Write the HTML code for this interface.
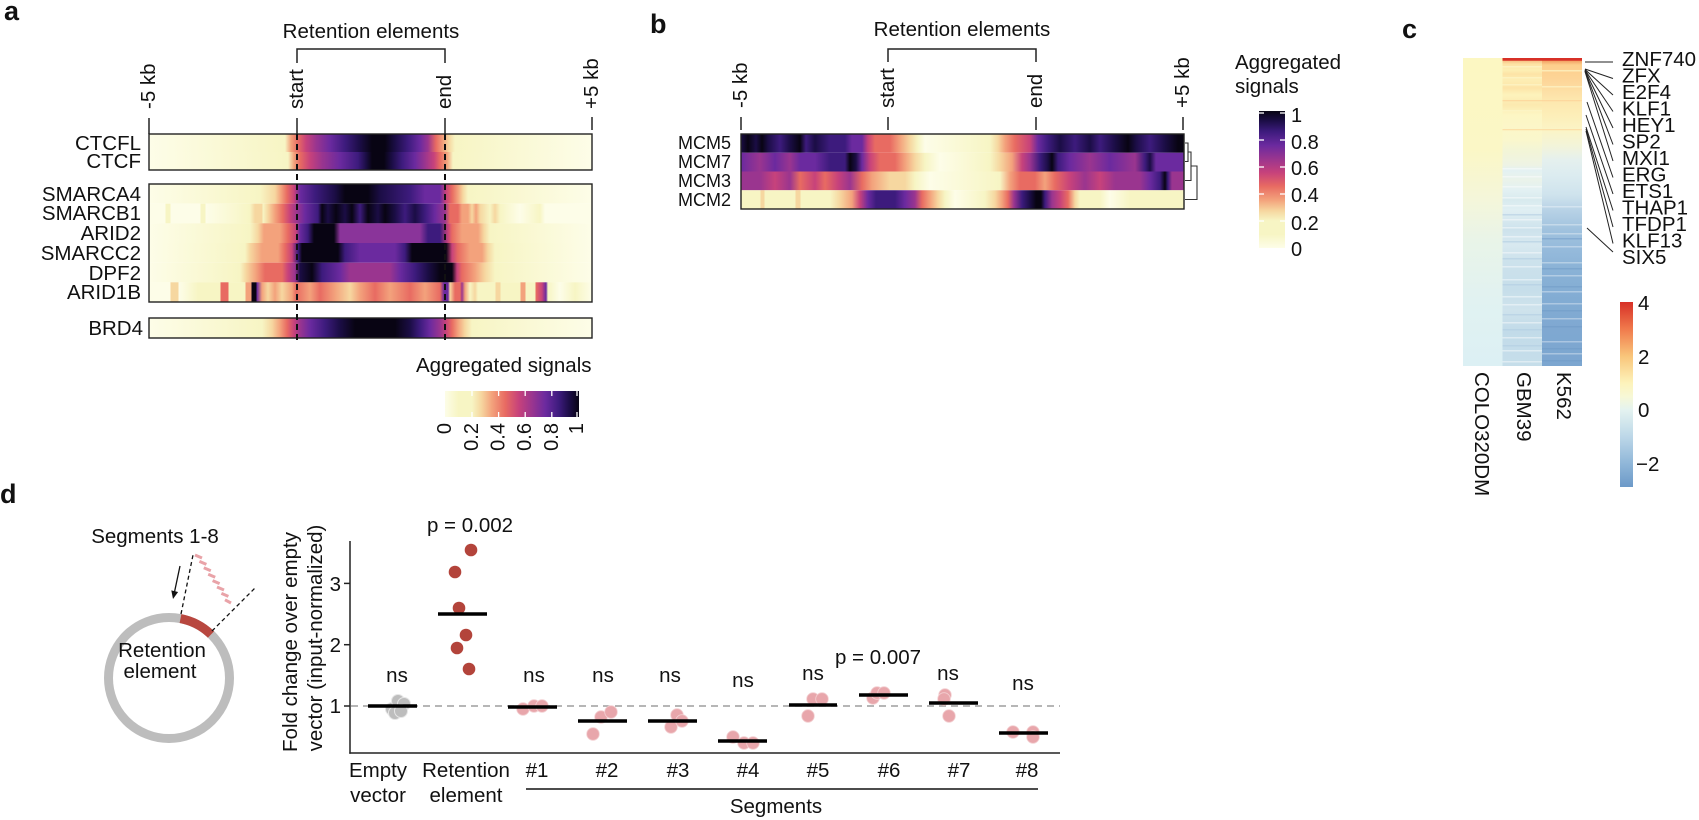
<!DOCTYPE html>
<html><head><meta charset="utf-8">
<style>
html,body{margin:0;padding:0;background:#fff;}
svg{display:block;}
.p0{stop-color:#fdfde8}.p1{stop-color:#f7f5c4}.p2{stop-color:#f6d7a0}.p3{stop-color:#f3a27c}
.p4{stop-color:#e86b62}.p5{stop-color:#c7427b}.p6{stop-color:#9a358f}.p7{stop-color:#6b2a9f}
.p8{stop-color:#3d1b7d}.p9{stop-color:#1b0d45}.p10{stop-color:#080413}
text{font-family:"Liberation Sans",Arial,sans-serif;fill:#111;}
</style></head>
<body>
<svg width="1699" height="820" viewBox="0 0 1699 820" xmlns="http://www.w3.org/2000/svg">
<defs>
<!-- panel a rows -->
<linearGradient id="a1" gradientUnits="userSpaceOnUse" x1="0" y1="0" x2="2000" y2="0">
<stop offset="7.45%" class="p0"/><stop offset="14.25%" class="p1"/><stop offset="14.55%" class="p3"/><stop offset="14.9%" class="p4"/><stop offset="15.3%" class="p5"/><stop offset="15.8%" class="p6"/><stop offset="16.5%" class="p7"/><stop offset="17.25%" class="p8"/><stop offset="18%" class="p9"/><stop offset="18.6%" class="p10"/><stop offset="19.25%" class="p10"/><stop offset="19.75%" class="p9"/><stop offset="20.4%" class="p8"/><stop offset="21%" class="p7"/><stop offset="21.4%" class="p6"/><stop offset="21.8%" class="p4"/><stop offset="22.15%" class="p3"/><stop offset="22.45%" class="p2"/><stop offset="22.75%" class="p1"/><stop offset="29.6%" class="p0"/>
</linearGradient>
<linearGradient id="a2" gradientUnits="userSpaceOnUse" x1="0" y1="0" x2="2000" y2="0">
<stop offset="7.45%" class="p0"/><stop offset="14.4%" class="p1"/><stop offset="14.7%" class="p3"/><stop offset="15%" class="p4"/><stop offset="15.5%" class="p5"/><stop offset="16.1%" class="p6"/><stop offset="17%" class="p7"/><stop offset="17.9%" class="p8"/><stop offset="18.3%" class="p9"/><stop offset="18.6%" class="p10"/><stop offset="19.2%" class="p10"/><stop offset="19.6%" class="p9"/><stop offset="20.1%" class="p8"/><stop offset="20.75%" class="p7"/><stop offset="21.25%" class="p6"/><stop offset="21.7%" class="p5"/><stop offset="22%" class="p4"/><stop offset="22.35%" class="p3"/><stop offset="22.65%" class="p1"/><stop offset="29.6%" class="p0"/>
</linearGradient>
<linearGradient id="a3" gradientUnits="userSpaceOnUse" x1="0" y1="0" x2="2000" y2="0">
<stop offset="7.45%" class="p0"/><stop offset="13%" class="p1"/><stop offset="13.75%" class="p2"/><stop offset="14.05%" class="p3"/><stop offset="14.35%" class="p4"/><stop offset="14.7%" class="p5"/><stop offset="15%" class="p7"/><stop offset="15.75%" class="p8"/><stop offset="16.75%" class="p9"/><stop offset="17.25%" class="p10"/><stop offset="18.4%" class="p10"/><stop offset="19%" class="p9"/><stop offset="20.5%" class="p8"/><stop offset="21.25%" class="p7"/><stop offset="22%" class="p7"/><stop offset="22.3%" class="p5"/><stop offset="22.6%" class="p4"/><stop offset="22.9%" class="p3"/><stop offset="23.15%" class="p2"/><stop offset="23.4%" class="p1"/><stop offset="29.6%" class="p0"/>
</linearGradient>
<linearGradient id="a4" gradientUnits="userSpaceOnUse" x1="0" y1="0" x2="2000" y2="0">
<stop offset="7.45%" class="p0"/><stop offset="8.25%" class="p0"/><stop offset="8.3%" class="p1"/><stop offset="8.5%" class="p1"/><stop offset="8.55%" class="p0"/><stop offset="10%" class="p0"/><stop offset="10.05%" class="p1"/><stop offset="10.25%" class="p1"/><stop offset="10.3%" class="p0"/><stop offset="12.5%" class="p1"/><stop offset="12.75%" class="p2"/><stop offset="13.1%" class="p2"/><stop offset="13.15%" class="p1"/><stop offset="13.4%" class="p2"/><stop offset="13.75%" class="p3"/><stop offset="14.15%" class="p4"/><stop offset="14.5%" class="p5"/><stop offset="14.85%" class="p6"/><stop offset="15.25%" class="p7"/><stop offset="15.9%" class="p8"/><stop offset="16.1%" class="p10"/><stop offset="16.4%" class="p9"/><stop offset="16.8%" class="p10"/><stop offset="17.25%" class="p9"/><stop offset="17.6%" class="p10"/><stop offset="18%" class="p8"/><stop offset="18.4%" class="p10"/><stop offset="18.9%" class="p9"/><stop offset="19.25%" class="p10"/><stop offset="19.75%" class="p9"/><stop offset="20.25%" class="p8"/><stop offset="20.75%" class="p9"/><stop offset="21.25%" class="p8"/><stop offset="21.75%" class="p7"/><stop offset="22.25%" class="p6"/><stop offset="22.5%" class="p4"/><stop offset="22.9%" class="p4"/><stop offset="23.1%" class="p3"/><stop offset="23.4%" class="p3"/><stop offset="23.6%" class="p2"/><stop offset="23.8%" class="p3"/><stop offset="24%" class="p2"/><stop offset="24.5%" class="p1"/><stop offset="24.75%" class="p2"/><stop offset="25%" class="p1"/><stop offset="26%" class="p0"/><stop offset="27%" class="p1"/><stop offset="27.25%" class="p0"/><stop offset="29.6%" class="p0"/>
</linearGradient>
<linearGradient id="a5" gradientUnits="userSpaceOnUse" x1="0" y1="0" x2="2000" y2="0">
<stop offset="7.45%" class="p0"/><stop offset="12.5%" class="p1"/><stop offset="12.9%" class="p2"/><stop offset="13.2%" class="p3"/><stop offset="14%" class="p3"/><stop offset="14.4%" class="p4"/><stop offset="14.8%" class="p5"/><stop offset="15%" class="p7"/><stop offset="15.4%" class="p8"/><stop offset="15.7%" class="p10"/><stop offset="16.7%" class="p10"/><stop offset="17%" stop-color="#8a349a"/><stop offset="21%" stop-color="#8a349a"/><stop offset="21.4%" class="p8"/><stop offset="22%" class="p8"/><stop offset="22.4%" class="p5"/><stop offset="22.6%" class="p4"/><stop offset="23.1%" class="p3"/><stop offset="23.9%" class="p3"/><stop offset="24.2%" class="p2"/><stop offset="24.5%" class="p1"/><stop offset="29.6%" class="p0"/>
</linearGradient>
<linearGradient id="a6" gradientUnits="userSpaceOnUse" x1="0" y1="0" x2="2000" y2="0">
<stop offset="7.45%" class="p0"/><stop offset="12.25%" class="p1"/><stop offset="12.5%" class="p2"/><stop offset="13.1%" class="p3"/><stop offset="13.9%" class="p3"/><stop offset="14.25%" class="p4"/><stop offset="14.6%" class="p5"/><stop offset="14.9%" class="p8"/><stop offset="15.1%" class="p10"/><stop offset="16.9%" class="p10"/><stop offset="17.25%" class="p8"/><stop offset="18%" class="p7"/><stop offset="19.75%" class="p7"/><stop offset="20.25%" class="p8"/><stop offset="20.6%" class="p10"/><stop offset="22.3%" class="p10"/><stop offset="22.6%" class="p5"/><stop offset="22.9%" class="p4"/><stop offset="23.5%" class="p3"/><stop offset="24.1%" class="p3"/><stop offset="24.4%" class="p2"/><stop offset="24.75%" class="p1"/><stop offset="29.6%" class="p0"/>
</linearGradient>
<linearGradient id="a7" gradientUnits="userSpaceOnUse" x1="0" y1="0" x2="2000" y2="0">
<stop offset="7.45%" class="p0"/><stop offset="12%" class="p1"/><stop offset="12.3%" class="p2"/><stop offset="12.8%" class="p3"/><stop offset="13.25%" class="p4"/><stop offset="14.1%" class="p4"/><stop offset="14.4%" class="p5"/><stop offset="14.75%" class="p6"/><stop offset="15%" class="p9"/><stop offset="15.6%" class="p10"/><stop offset="16.1%" class="p8"/><stop offset="17%" class="p7"/><stop offset="17.5%" class="p6"/><stop offset="19.5%" class="p6"/><stop offset="20%" class="p7"/><stop offset="20.75%" class="p8"/><stop offset="21.4%" class="p9"/><stop offset="22%" class="p10"/><stop offset="22.6%" class="p10"/><stop offset="22.85%" class="p5"/><stop offset="23.1%" class="p4"/><stop offset="23.75%" class="p3"/><stop offset="24.25%" class="p2"/><stop offset="24.75%" class="p1"/><stop offset="29.6%" class="p0"/>
</linearGradient>
<linearGradient id="a8" gradientUnits="userSpaceOnUse" x1="0" y1="0" x2="2000" y2="0">
<stop offset="7.45%" class="p0"/><stop offset="8.5%" class="p0"/><stop offset="8.55%" class="p2"/><stop offset="8.9%" class="p2"/><stop offset="8.95%" class="p0"/><stop offset="9.9%" class="p1"/><stop offset="11%" class="p1"/><stop offset="11.05%" class="p4"/><stop offset="11.4%" class="p4"/><stop offset="11.45%" class="p1"/><stop offset="12.25%" class="p1"/><stop offset="12.3%" class="p3"/><stop offset="12.55%" class="p3"/><stop offset="12.6%" class="p10"/><stop offset="12.8%" class="p10"/><stop offset="12.85%" class="p7"/><stop offset="13.1%" class="p3"/><stop offset="13.4%" class="p2"/><stop offset="13.75%" class="p3"/><stop offset="14.1%" class="p2"/><stop offset="14.6%" class="p3"/><stop offset="14.8%" class="p4"/><stop offset="15.5%" class="p3"/><stop offset="16%" class="p4"/><stop offset="16.75%" class="p3"/><stop offset="17.5%" class="p2"/><stop offset="18%" class="p3"/><stop offset="18.75%" class="p4"/><stop offset="19.5%" class="p3"/><stop offset="20.5%" class="p4"/><stop offset="21.25%" class="p3"/><stop offset="22%" class="p4"/><stop offset="22.2%" class="p7"/><stop offset="22.4%" class="p7"/><stop offset="22.5%" class="p2"/><stop offset="22.75%" class="p4"/><stop offset="23%" class="p4"/><stop offset="23.1%" class="p6"/><stop offset="23.25%" class="p3"/><stop offset="23.5%" class="p1"/><stop offset="23.75%" class="p2"/><stop offset="23.9%" class="p1"/><stop offset="24.75%" class="p1"/><stop offset="24.8%" class="p2"/><stop offset="25%" class="p2"/><stop offset="25.05%" class="p1"/><stop offset="26%" class="p1"/><stop offset="26.05%" class="p3"/><stop offset="26.25%" class="p3"/><stop offset="26.3%" class="p1"/><stop offset="26.75%" class="p1"/><stop offset="26.8%" class="p4"/><stop offset="27.1%" class="p5"/><stop offset="27.3%" class="p7"/><stop offset="27.4%" class="p1"/><stop offset="28%" class="p0"/><stop offset="28.75%" class="p1"/><stop offset="29.6%" class="p0"/>
</linearGradient>
<linearGradient id="a9" gradientUnits="userSpaceOnUse" x1="0" y1="0" x2="2000" y2="0">
<stop offset="7.45%" class="p0"/><stop offset="13.1%" class="p1"/><stop offset="13.6%" class="p2"/><stop offset="14%" class="p3"/><stop offset="14.35%" class="p4"/><stop offset="14.7%" class="p5"/><stop offset="15%" class="p6"/><stop offset="15.5%" class="p7"/><stop offset="16.25%" class="p8"/><stop offset="17%" class="p9"/><stop offset="17.75%" class="p10"/><stop offset="19.75%" class="p10"/><stop offset="20.5%" class="p9"/><stop offset="21%" class="p8"/><stop offset="21.5%" class="p7"/><stop offset="22%" class="p6"/><stop offset="22.3%" class="p5"/><stop offset="22.6%" class="p4"/><stop offset="22.9%" class="p3"/><stop offset="23.25%" class="p2"/><stop offset="23.6%" class="p1"/><stop offset="29.6%" class="p0"/>
</linearGradient>
<!-- panel b rows -->
<linearGradient id="b1" gradientUnits="userSpaceOnUse" x1="0" y1="0" x2="2000" y2="0">
<stop offset="37.05%" class="p9"/><stop offset="37.4%" class="p10"/><stop offset="37.8%" class="p9"/><stop offset="38.1%" class="p10"/><stop offset="38.4%" class="p9"/><stop offset="39%" class="p8"/><stop offset="39.5%" class="p9"/><stop offset="40%" class="p10"/><stop offset="40.3%" class="p8"/><stop offset="40.75%" class="p9"/><stop offset="41.5%" class="p8"/><stop offset="42.25%" class="p8"/><stop offset="42.6%" class="p7"/><stop offset="43.1%" class="p7"/><stop offset="43.4%" class="p5"/><stop offset="43.75%" class="p4"/><stop offset="44.5%" class="p4"/><stop offset="45%" class="p3"/><stop offset="45.5%" class="p2"/><stop offset="45.9%" class="p1"/><stop offset="46.25%" class="p0"/><stop offset="49.5%" class="p1"/><stop offset="49.9%" class="p2"/><stop offset="50.25%" class="p3"/><stop offset="50.75%" class="p4"/><stop offset="51.5%" class="p5"/><stop offset="51.9%" class="p7"/><stop offset="52.4%" class="p8"/><stop offset="53%" class="p9"/><stop offset="53.75%" class="p8"/><stop offset="54.5%" class="p9"/><stop offset="55%" class="p8"/><stop offset="55.75%" class="p9"/><stop offset="56.4%" class="p10"/><stop offset="56.8%" class="p9"/><stop offset="57.5%" class="p8"/><stop offset="58.25%" class="p9"/><stop offset="58.9%" class="p10"/><stop offset="59.2%" class="p10"/>
</linearGradient>
<linearGradient id="b2" gradientUnits="userSpaceOnUse" x1="0" y1="0" x2="2000" y2="0">
<stop offset="37.05%" class="p7"/><stop offset="38%" class="p6"/><stop offset="38.75%" class="p7"/><stop offset="39.5%" class="p6"/><stop offset="40%" class="p7"/><stop offset="40.75%" class="p7"/><stop offset="41.5%" class="p8"/><stop offset="42.25%" class="p8"/><stop offset="42.5%" class="p10"/><stop offset="42.8%" class="p9"/><stop offset="43.1%" class="p7"/><stop offset="43.5%" class="p5"/><stop offset="44%" class="p4"/><stop offset="44.75%" class="p4"/><stop offset="45.25%" class="p3"/><stop offset="45.75%" class="p2"/><stop offset="46.25%" class="p1"/><stop offset="47%" class="p0"/><stop offset="49.5%" class="p1"/><stop offset="50%" class="p2"/><stop offset="50.6%" class="p3"/><stop offset="51.1%" class="p5"/><stop offset="51.5%" class="p6"/><stop offset="52%" class="p8"/><stop offset="52.4%" class="p9"/><stop offset="52.6%" class="p10"/><stop offset="52.9%" class="p8"/><stop offset="53.5%" class="p7"/><stop offset="54.5%" class="p6"/><stop offset="55.5%" class="p7"/><stop offset="56.75%" class="p6"/><stop offset="57.25%" class="p8"/><stop offset="57.5%" class="p9"/><stop offset="57.8%" class="p7"/><stop offset="59.2%" class="p7"/>
</linearGradient>
<linearGradient id="b3" gradientUnits="userSpaceOnUse" x1="0" y1="0" x2="2000" y2="0">
<stop offset="37.05%" class="p6"/><stop offset="38%" class="p6"/><stop offset="38.75%" class="p5"/><stop offset="39.5%" class="p6"/><stop offset="40%" class="p4"/><stop offset="40.75%" class="p5"/><stop offset="41.25%" class="p4"/><stop offset="41.9%" class="p5"/><stop offset="42.5%" class="p6"/><stop offset="43.1%" class="p4"/><stop offset="43.6%" class="p3"/><stop offset="44.5%" class="p2"/><stop offset="45.25%" class="p2"/><stop offset="45.75%" class="p1"/><stop offset="46.5%" class="p0"/><stop offset="50%" class="p1"/><stop offset="50.5%" class="p3"/><stop offset="51%" class="p4"/><stop offset="51.75%" class="p4"/><stop offset="52.25%" class="p3"/><stop offset="52.75%" class="p4"/><stop offset="53.5%" class="p5"/><stop offset="54.25%" class="p6"/><stop offset="55%" class="p5"/><stop offset="55.75%" class="p6"/><stop offset="57%" class="p6"/><stop offset="57.5%" class="p7"/><stop offset="58%" class="p8"/><stop offset="58.25%" class="p10"/><stop offset="58.4%" class="p8"/><stop offset="58.6%" class="p6"/><stop offset="59.2%" class="p6"/>
</linearGradient>
<linearGradient id="b4" gradientUnits="userSpaceOnUse" x1="0" y1="0" x2="2000" y2="0">
<stop offset="37.05%" class="p1"/><stop offset="38%" class="p1"/><stop offset="38.05%" class="p2"/><stop offset="38.2%" class="p2"/><stop offset="38.25%" class="p1"/><stop offset="39.75%" class="p1"/><stop offset="39.8%" class="p2"/><stop offset="40%" class="p2"/><stop offset="40.05%" class="p1"/><stop offset="41.5%" class="p1"/><stop offset="42%" class="p2"/><stop offset="42.6%" class="p3"/><stop offset="43%" class="p5"/><stop offset="43.4%" class="p7"/><stop offset="43.8%" class="p8"/><stop offset="44.75%" class="p8"/><stop offset="45.25%" class="p7"/><stop offset="45.75%" class="p6"/><stop offset="46.1%" class="p4"/><stop offset="46.5%" class="p3"/><stop offset="46.9%" class="p2"/><stop offset="47.25%" class="p1"/><stop offset="47.75%" class="p0"/><stop offset="49.25%" class="p1"/><stop offset="49.75%" class="p2"/><stop offset="50.1%" class="p3"/><stop offset="50.4%" class="p4"/><stop offset="50.7%" class="p6"/><stop offset="51.1%" class="p8"/><stop offset="51.5%" class="p9"/><stop offset="51.8%" class="p10"/><stop offset="52.05%" class="p10"/><stop offset="52.25%" class="p8"/><stop offset="52.6%" class="p6"/><stop offset="53%" class="p5"/><stop offset="53.4%" class="p4"/><stop offset="53.75%" class="p2"/><stop offset="54%" class="p1"/><stop offset="55%" class="p1"/><stop offset="55.5%" class="p0"/><stop offset="56.5%" class="p1"/><stop offset="59.2%" class="p1"/>
</linearGradient>
<!-- colorbars -->
<linearGradient id="cbA" gradientUnits="userSpaceOnUse" x1="445" y1="0" x2="579" y2="0">
<stop offset="0" class="p0"/><stop offset="0.1" class="p1"/><stop offset="0.2" class="p1"/><stop offset="0.27" class="p2"/><stop offset="0.35" class="p3"/><stop offset="0.45" class="p4"/><stop offset="0.55" class="p5"/><stop offset="0.65" class="p6"/><stop offset="0.75" class="p7"/><stop offset="0.85" class="p8"/><stop offset="0.93" class="p9"/><stop offset="1" class="p10"/>
</linearGradient>
<linearGradient id="cbB" gradientUnits="userSpaceOnUse" x1="0" y1="248" x2="0" y2="111">
<stop offset="0" class="p0"/><stop offset="0.1" class="p1"/><stop offset="0.2" class="p1"/><stop offset="0.27" class="p2"/><stop offset="0.35" class="p3"/><stop offset="0.45" class="p4"/><stop offset="0.55" class="p5"/><stop offset="0.65" class="p6"/><stop offset="0.75" class="p7"/><stop offset="0.85" class="p8"/><stop offset="0.93" class="p9"/><stop offset="1" class="p10"/>
</linearGradient>
<linearGradient id="cbC" gradientUnits="userSpaceOnUse" x1="0" y1="302" x2="0" y2="487">
<stop offset="0" stop-color="#d73027"/><stop offset="0.146" stop-color="#f07a4c"/><stop offset="0.292" stop-color="#f9c57a"/><stop offset="0.438" stop-color="#fdf3bb"/><stop offset="0.511" stop-color="#f7f8d6"/><stop offset="0.584" stop-color="#e4f3f0"/><stop offset="0.73" stop-color="#bcd7e8"/><stop offset="0.876" stop-color="#8fb6d8"/><stop offset="1" stop-color="#6c99c8"/>
</linearGradient>
<!-- panel c columns -->
<linearGradient id="c1" gradientUnits="userSpaceOnUse" x1="0" y1="0" x2="0" y2="1000">
<stop offset="5.8%" stop-color="#fcf7c2"/><stop offset="15%" stop-color="#fbf7c6"/><stop offset="20%" stop-color="#f4f6da"/><stop offset="24%" stop-color="#e9f4e8"/><stop offset="30%" stop-color="#e1f2f1"/><stop offset="36.6%" stop-color="#dcf0f4"/>
</linearGradient>
<linearGradient id="c2" gradientUnits="userSpaceOnUse" x1="0" y1="0" x2="0" y2="1000">
<stop offset="5.8%" stop-color="#d73027"/><stop offset="6.05%" stop-color="#d73027"/><stop offset="6.1%" stop-color="#f7c487"/><stop offset="6.4%" stop-color="#fde2a4"/><stop offset="7%" stop-color="#fdefb4"/><stop offset="7.4%" stop-color="#fde3a6"/><stop offset="8%" stop-color="#fdeeb4"/><stop offset="8.8%" stop-color="#fde4a8"/><stop offset="9.5%" stop-color="#fdf3bc"/><stop offset="10.5%" stop-color="#fce9af"/><stop offset="11.5%" stop-color="#fdf6c4"/><stop offset="14%" stop-color="#faf7cc"/><stop offset="15%" stop-color="#f3f5d6"/><stop offset="16.5%" stop-color="#eef3e4"/><stop offset="17%" stop-color="#e3f1f3"/><stop offset="18%" stop-color="#eaf3ea"/><stop offset="19%" stop-color="#e3f1f3"/><stop offset="20%" stop-color="#d8eaee"/><stop offset="21%" stop-color="#e0eff3"/><stop offset="23%" stop-color="#cde2ec"/><stop offset="24.5%" stop-color="#d8e9f0"/><stop offset="26%" stop-color="#cde2ec"/><stop offset="29%" stop-color="#c6deea"/><stop offset="31%" stop-color="#cfe3ec"/><stop offset="33%" stop-color="#c2dbe9"/><stop offset="36.6%" stop-color="#c6deea"/>
</linearGradient>
<linearGradient id="c3" gradientUnits="userSpaceOnUse" x1="0" y1="0" x2="0" y2="1000">
<stop offset="5.8%" stop-color="#d73027"/><stop offset="6.05%" stop-color="#d73027"/><stop offset="6.1%" stop-color="#f3a465"/><stop offset="6.5%" stop-color="#fdcf8c"/><stop offset="8%" stop-color="#fdd598"/><stop offset="9.2%" stop-color="#fde0a6"/><stop offset="10%" stop-color="#fde7ae"/><stop offset="11.5%" stop-color="#fdeeb8"/><stop offset="13%" stop-color="#fbf4c6"/><stop offset="14.5%" stop-color="#f3f4d8"/><stop offset="16%" stop-color="#e5f0ee"/><stop offset="17.5%" stop-color="#dcecf0"/><stop offset="19.5%" stop-color="#cfe3ed"/><stop offset="21%" stop-color="#b8d2e6"/><stop offset="23%" stop-color="#a0c2de"/><stop offset="25%" stop-color="#95badb"/><stop offset="27%" stop-color="#8ab2d6"/><stop offset="30%" stop-color="#82acd3"/><stop offset="33%" stop-color="#7fa8d1"/><stop offset="36.6%" stop-color="#7ca6d0"/>
</linearGradient>
</defs>

<rect x="0" y="0" width="1699" height="820" fill="#fff"/>

<!-- ================= PANEL A ================= -->
<text x="4" y="20" font-size="27" font-weight="bold">a</text>
<text x="371" y="38" font-size="20.5" text-anchor="middle">Retention elements</text>
<path d="M297,63 V49 H445 V63" fill="none" stroke="#222" stroke-width="1.5"/>
<g stroke="#222" stroke-width="1.5">
<line x1="149" y1="118" x2="149" y2="134"/>
<line x1="297" y1="118" x2="297" y2="134"/>
<line x1="445" y1="118" x2="445" y2="134"/>
<line x1="592" y1="117" x2="592" y2="130"/>
</g>
<g font-size="20.5">
<text transform="translate(155,109) rotate(-90)">-5 kb</text>
<text transform="translate(303,109) rotate(-90)">start</text>
<text transform="translate(451,109) rotate(-90)">end</text>
<text transform="translate(598,109) rotate(-90)">+5 kb</text>
</g>
<rect x="149" y="134" width="443" height="18" fill="url(#a1)"/>
<rect x="149" y="152" width="443" height="18" fill="url(#a2)"/>
<rect x="149" y="184" width="443" height="19.7" fill="url(#a3)"/>
<rect x="149" y="203.7" width="443" height="19.7" fill="url(#a4)"/>
<rect x="149" y="223.3" width="443" height="19.7" fill="url(#a5)"/>
<rect x="149" y="243" width="443" height="19.7" fill="url(#a6)"/>
<rect x="149" y="262.7" width="443" height="19.7" fill="url(#a7)"/>
<rect x="149" y="282.3" width="443" height="19.7" fill="url(#a8)"/>
<rect x="149" y="318" width="443" height="20" fill="url(#a9)"/>
<g fill="none" stroke="#222" stroke-width="1.4">
<rect x="149" y="134" width="443" height="36"/>
<rect x="149" y="184" width="443" height="118"/>
<rect x="149" y="318" width="443" height="20"/>
</g>
<g stroke="#111" stroke-width="2" stroke-dasharray="6 4">
<line x1="297" y1="134" x2="297" y2="340"/>
<line x1="445" y1="134" x2="445" y2="340"/>
</g>
<g font-size="20.5" text-anchor="end">
<text x="141" y="150">CTCFL</text>
<text x="141" y="168">CTCF</text>
<text x="141" y="201">SMARCA4</text>
<text x="141" y="220">SMARCB1</text>
<text x="141" y="240">ARID2</text>
<text x="141" y="260">SMARCC2</text>
<text x="141" y="280">DPF2</text>
<text x="141" y="299">ARID1B</text>
<text x="143" y="335">BRD4</text>
</g>
<text x="416" y="372" font-size="20.5">Aggregated signals</text>
<rect x="445" y="391" width="134" height="26" fill="url(#cbA)"/>
<g stroke="#fff" stroke-width="1.3">
<line x1="472" y1="391" x2="472" y2="396"/><line x1="472" y1="412" x2="472" y2="417"/>
<line x1="498.6" y1="391" x2="498.6" y2="396"/><line x1="498.6" y1="412" x2="498.6" y2="417"/>
<line x1="525.2" y1="391" x2="525.2" y2="396"/><line x1="525.2" y1="412" x2="525.2" y2="417"/>
<line x1="551.8" y1="391" x2="551.8" y2="396"/><line x1="551.8" y1="412" x2="551.8" y2="417"/>
<line x1="577" y1="391" x2="577" y2="396"/><line x1="577" y1="412" x2="577" y2="417"/>
</g>
<g font-size="20" text-anchor="end">
<text transform="translate(451,423) rotate(-90)">0</text>
<text transform="translate(478,423) rotate(-90)">0.2</text>
<text transform="translate(504.6,423) rotate(-90)">0.4</text>
<text transform="translate(531.2,423) rotate(-90)">0.6</text>
<text transform="translate(557.8,423) rotate(-90)">0.8</text>
<text transform="translate(583,423) rotate(-90)">1</text>
</g>

<!-- ================= PANEL B ================= -->
<text x="650" y="33" font-size="27" font-weight="bold">b</text>
<text x="962" y="36" font-size="20.5" text-anchor="middle">Retention elements</text>
<path d="M888,62 V49 H1036 V62" fill="none" stroke="#222" stroke-width="1.5"/>
<g stroke="#222" stroke-width="1.5">
<line x1="741" y1="117" x2="741" y2="130"/>
<line x1="888" y1="117" x2="888" y2="130"/>
<line x1="1036" y1="117" x2="1036" y2="130"/>
<line x1="1183" y1="117" x2="1183" y2="130"/>
</g>
<g font-size="20.5">
<text transform="translate(747,108) rotate(-90)">-5 kb</text>
<text transform="translate(894,108) rotate(-90)">start</text>
<text transform="translate(1042,108) rotate(-90)">end</text>
<text transform="translate(1189,108) rotate(-90)">+5 kb</text>
</g>
<rect x="741" y="134" width="443" height="18.75" fill="url(#b1)"/>
<rect x="741" y="152.75" width="443" height="18.75" fill="url(#b2)"/>
<rect x="741" y="171.5" width="443" height="18.75" fill="url(#b3)"/>
<rect x="741" y="190.25" width="443" height="18.75" fill="url(#b4)"/>
<rect x="741" y="134" width="443" height="75" fill="none" stroke="#222" stroke-width="1.4"/>
<g font-size="18" text-anchor="end">
<text x="731" y="149">MCM5</text>
<text x="731" y="168">MCM7</text>
<text x="731" y="187">MCM3</text>
<text x="731" y="206">MCM2</text>
</g>
<g fill="none" stroke="#333" stroke-width="1.1">
<path d="M1185,143 H1188 V161.5 H1185"/>
<path d="M1188,152 H1191 V180.5 H1185"/>
<path d="M1191,166 H1197 V199.5 H1185"/>
</g>
<text x="1235" y="69" font-size="20.5">Aggregated</text>
<text x="1235" y="93" font-size="20.5">signals</text>
<rect x="1259" y="111" width="26" height="137" fill="url(#cbB)"/>
<g stroke="#fff" stroke-width="1.3">
<line x1="1259" y1="113" x2="1264" y2="113"/><line x1="1280" y1="113" x2="1285" y2="113"/>
<line x1="1259" y1="140" x2="1264" y2="140"/><line x1="1280" y1="140" x2="1285" y2="140"/>
<line x1="1259" y1="167" x2="1264" y2="167"/><line x1="1280" y1="167" x2="1285" y2="167"/>
<line x1="1259" y1="194" x2="1264" y2="194"/><line x1="1280" y1="194" x2="1285" y2="194"/>
<line x1="1259" y1="221" x2="1264" y2="221"/><line x1="1280" y1="221" x2="1285" y2="221"/>
</g>
<g font-size="20">
<text x="1291" y="122">1</text>
<text x="1291" y="149">0.8</text>
<text x="1291" y="175">0.6</text>
<text x="1291" y="202">0.4</text>
<text x="1291" y="230">0.2</text>
<text x="1291" y="256">0</text>
</g>

<!-- ================= PANEL C ================= -->
<text x="1402" y="38" font-size="27" font-weight="bold">c</text>
<rect x="1463" y="58" width="39.5" height="308" fill="url(#c1)"/>
<rect x="1502.5" y="58" width="39.5" height="308" fill="url(#c2)"/>
<rect x="1542" y="58" width="40" height="308" fill="url(#c3)"/>
<g fill="#fff" opacity="0.45">
<rect x="1502.5" y="168" width="39.5" height="1.5"/><rect x="1502.5" y="176" width="39.5" height="1.5"/><rect x="1502.5" y="186" width="39.5" height="1.5"/><rect x="1502.5" y="197" width="39.5" height="1.5"/><rect x="1502.5" y="205" width="39.5" height="1.5"/><rect x="1502.5" y="219" width="39.5" height="1.5"/><rect x="1502.5" y="227" width="39.5" height="1.5"/><rect x="1502.5" y="236" width="39.5" height="1.5"/><rect x="1502.5" y="252" width="39.5" height="1.5"/><rect x="1502.5" y="266" width="39.5" height="1.5"/><rect x="1502.5" y="279" width="39.5" height="1.5"/><rect x="1502.5" y="296" width="39.5" height="1.5"/><rect x="1502.5" y="304" width="39.5" height="1.5"/><rect x="1502.5" y="322" width="39.5" height="1.5"/><rect x="1502.5" y="337" width="39.5" height="1.5"/><rect x="1502.5" y="350" width="39.5" height="1.5"/><rect x="1502.5" y="361" width="39.5" height="1.5"/>
</g>
<g fill="#fff" opacity="0.35">
<rect x="1542" y="206" width="40" height="1.5"/><rect x="1542" y="224" width="40" height="1.5"/><rect x="1542" y="233" width="40" height="1.5"/><rect x="1542" y="246" width="40" height="1.5"/><rect x="1542" y="262" width="40" height="1.5"/><rect x="1542" y="275" width="40" height="1.5"/><rect x="1542" y="291" width="40" height="1.5"/><rect x="1542" y="303" width="40" height="1.5"/><rect x="1542" y="318" width="40" height="1.5"/><rect x="1542" y="341" width="40" height="1.5"/><rect x="1542" y="353" width="40" height="1.5"/>
</g>
<g fill="#b3cee3" opacity="0.6">
<rect x="1502.5" y="214" width="39.5" height="1.5"/><rect x="1502.5" y="241" width="39.5" height="1.5"/><rect x="1502.5" y="258" width="39.5" height="1.5"/><rect x="1502.5" y="284" width="39.5" height="1.5"/><rect x="1502.5" y="314" width="39.5" height="1.5"/><rect x="1502.5" y="329" width="39.5" height="1.5"/><rect x="1502.5" y="345" width="39.5" height="1.5"/>
</g>
<g fill="#6f9ac7" opacity="0.5">
<rect x="1542" y="238" width="40" height="1.5"/><rect x="1542" y="268" width="40" height="1.5"/><rect x="1542" y="286" width="40" height="1.5"/><rect x="1542" y="310" width="40" height="1.5"/><rect x="1542" y="326" width="40" height="1.5"/><rect x="1542" y="348" width="40" height="1.5"/><rect x="1542" y="360" width="40" height="1.5"/>
</g>
<g fill="#fdf6c8" opacity="0.7">
<rect x="1502.5" y="66" width="39.5" height="1.5"/><rect x="1502.5" y="77" width="39.5" height="1.5"/><rect x="1502.5" y="84" width="39.5" height="1.5"/><rect x="1502.5" y="110" width="39.5" height="1.5"/>
<rect x="1542" y="70" width="40" height="1.5"/><rect x="1542" y="86" width="40" height="1.5"/>
</g>
<rect x="1502.5" y="100" width="79.5" height="1.3" fill="#fcd39a" opacity="0.8"/>
<rect x="1502.5" y="129" width="79.5" height="1.3" fill="#fcd9a0" opacity="0.8"/>
<g stroke="#222" stroke-width="1">
<line x1="1585" y1="62" x2="1613" y2="62"/>
<line x1="1585" y1="69" x2="1613" y2="78.5"/>
<line x1="1585" y1="69.5" x2="1613" y2="95"/>
<line x1="1585" y1="70" x2="1613" y2="111.5"/>
<line x1="1585" y1="70.5" x2="1613" y2="128"/>
<line x1="1585" y1="71" x2="1613" y2="144.5"/>
<line x1="1585" y1="71.5" x2="1613" y2="161"/>
<line x1="1587" y1="102" x2="1613" y2="177.5"/>
<line x1="1586" y1="115" x2="1613" y2="194"/>
<line x1="1586" y1="127" x2="1613" y2="210.5"/>
<line x1="1586" y1="129" x2="1613" y2="227"/>
<line x1="1586" y1="131" x2="1613" y2="243.5"/>
<line x1="1587" y1="228" x2="1613" y2="252"/>
</g>
<g font-size="20.5">
<text x="1622" y="66">ZNF740</text>
<text x="1622" y="82.5">ZFX</text>
<text x="1622" y="99">E2F4</text>
<text x="1622" y="115.5">KLF1</text>
<text x="1622" y="132">HEY1</text>
<text x="1622" y="148.5">SP2</text>
<text x="1622" y="165">MXI1</text>
<text x="1622" y="181.5">ERG</text>
<text x="1622" y="198">ETS1</text>
<text x="1622" y="214.5">THAP1</text>
<text x="1622" y="231">TFDP1</text>
<text x="1622" y="247.5">KLF13</text>
<text x="1622" y="264">SIX5</text>
</g>
<g font-size="20.5">
<text transform="translate(1475,372) rotate(90)">COLO320DM</text>
<text transform="translate(1517,372) rotate(90)">GBM39</text>
<text transform="translate(1557,372) rotate(90)">K562</text>
</g>
<rect x="1620" y="302" width="13" height="185" fill="url(#cbC)"/>
<g font-size="20.5">
<text x="1638" y="310">4</text>
<text x="1638" y="364">2</text>
<text x="1638" y="417">0</text>
<text x="1636" y="471">−2</text>
</g>

<!-- ================= PANEL D ================= -->
<text x="0" y="503" font-size="27" font-weight="bold">d</text>
<text x="155" y="543" font-size="20.5" text-anchor="middle">Segments 1-8</text>
<circle cx="169" cy="678" r="60.5" fill="none" stroke="#bdbdbd" stroke-width="9"/>
<path d="M180.5,618.6 A60.5,60.5 0 0 1 211,634.5" fill="none" stroke="#b8473f" stroke-width="9"/>
<g stroke="#111" stroke-width="1.3" stroke-dasharray="4 3" fill="none">
<line x1="181" y1="614" x2="193" y2="555"/>
<line x1="212" y1="631" x2="255" y2="588"/>
</g>
<g stroke="#e9a3a8" stroke-width="3">
<line x1="195" y1="555" x2="202" y2="558"/>
<line x1="199.4" y1="561.4" x2="206.4" y2="564.4"/>
<line x1="203.8" y1="567.8" x2="210.8" y2="570.8"/>
<line x1="208.2" y1="574.2" x2="215.2" y2="577.2"/>
<line x1="212.6" y1="580.6" x2="219.6" y2="583.6"/>
<line x1="217" y1="587" x2="224" y2="590"/>
<line x1="221.4" y1="593.4" x2="228.4" y2="596.4"/>
<line x1="225" y1="599.8" x2="231" y2="603"/>
</g>
<line x1="180" y1="566" x2="174.5" y2="592" stroke="#111" stroke-width="1.3"/>
<polygon points="173,599 178.1,592 171.3,590.4" fill="#111"/>
<text x="162" y="657" font-size="20.5" text-anchor="middle">Retention</text>
<text x="160" y="678" font-size="20.5" text-anchor="middle">element</text>

<!-- chart -->
<text transform="translate(297,642) rotate(-90)" font-size="20.5" text-anchor="middle">Fold change over empty</text>
<text transform="translate(322,638) rotate(-90)" font-size="20.5" text-anchor="middle">vector (input-normalized)</text>
<line x1="350" y1="541" x2="350" y2="753.7" stroke="#222" stroke-width="1.5"/>
<line x1="349.3" y1="753" x2="1060" y2="753" stroke="#222" stroke-width="1.5"/>
<g stroke="#222" stroke-width="1.5">
<line x1="344" y1="583.4" x2="350" y2="583.4"/>
<line x1="344" y1="644.7" x2="350" y2="644.7"/>
<line x1="344" y1="706" x2="350" y2="706"/>
</g>
<g font-size="20.5" text-anchor="end">
<text x="341" y="591">3</text>
<text x="341" y="652">2</text>
<text x="341" y="713">1</text>
</g>
<line x1="351" y1="706" x2="1060" y2="706" stroke="#8a8a8a" stroke-width="1.3" stroke-dasharray="7 5"/>
<!-- points -->
<g fill="#bdbdbd" stroke="#e6e6e6" stroke-width="1">
<circle cx="392" cy="709" r="6.5"/><circle cx="398" cy="701" r="6.5"/><circle cx="404" cy="704" r="6.5"/><circle cx="395" cy="713" r="6.5"/><circle cx="401" cy="711" r="6.5"/>
</g>
<g fill="#b3443b">
<circle cx="471" cy="550" r="6.3"/><circle cx="455" cy="572" r="6.3"/><circle cx="459" cy="608" r="6.3"/><circle cx="466" cy="635" r="6.3"/><circle cx="457" cy="648" r="6.3"/><circle cx="469" cy="669" r="6.3"/>
</g>
<g fill="#e8a6ab" stroke="#f3d0d2" stroke-width="0.8">
<circle cx="523" cy="709" r="6.3"/><circle cx="534" cy="706" r="6.3"/><circle cx="542" cy="706" r="6.3"/>
<circle cx="593" cy="734" r="6.3"/><circle cx="601" cy="717" r="6.3"/><circle cx="611" cy="712" r="6.3"/>
<circle cx="671" cy="727" r="6.3"/><circle cx="677" cy="715" r="6.3"/><circle cx="682" cy="721" r="6.3"/>
<circle cx="733" cy="737" r="6.3"/><circle cx="744" cy="743" r="6.3"/><circle cx="753" cy="743" r="6.3"/>
<circle cx="813" cy="699" r="6.3"/><circle cx="822" cy="699" r="6.3"/><circle cx="808" cy="716" r="6.3"/>
<circle cx="873" cy="698" r="6.3"/><circle cx="877" cy="693" r="6.3"/><circle cx="884" cy="693" r="6.3"/>
<circle cx="945" cy="695" r="6.3"/><circle cx="944" cy="699" r="6.3"/><circle cx="949" cy="716" r="6.3"/>
<circle cx="1013" cy="732" r="6.3"/><circle cx="1033" cy="732" r="6.3"/><circle cx="1033" cy="737" r="6.3"/>
</g>
<!-- medians -->
<g stroke="#000" stroke-width="3.5">
<line x1="368" y1="706" x2="417" y2="706"/>
<line x1="438" y1="614" x2="487" y2="614"/>
<line x1="508" y1="707" x2="557" y2="707"/>
<line x1="578" y1="721" x2="627" y2="721"/>
<line x1="648" y1="721" x2="697" y2="721"/>
<line x1="718" y1="741" x2="767" y2="741"/>
<line x1="789" y1="705" x2="837" y2="705"/>
<line x1="859" y1="695" x2="908" y2="695"/>
<line x1="929" y1="703" x2="978" y2="703"/>
<line x1="999" y1="733" x2="1048" y2="733"/>
</g>
<!-- annotations -->
<g font-size="20.5" text-anchor="middle">
<text x="470" y="532">p = 0.002</text>
<text x="878" y="664">p = 0.007</text>
<text x="397" y="682">ns</text>
<text x="534" y="682">ns</text>
<text x="603" y="682">ns</text>
<text x="670" y="682">ns</text>
<text x="743" y="687">ns</text>
<text x="813" y="680">ns</text>
<text x="948" y="680">ns</text>
<text x="1023" y="690">ns</text>
</g>
<g font-size="20.5" text-anchor="middle">
<text x="378" y="777">Empty</text>
<text x="378" y="802">vector</text>
<text x="466" y="777">Retention</text>
<text x="466" y="802">element</text>
<text x="537" y="777">#1</text>
<text x="607" y="777">#2</text>
<text x="678" y="777">#3</text>
<text x="748" y="777">#4</text>
<text x="818" y="777">#5</text>
<text x="889" y="777">#6</text>
<text x="959" y="777">#7</text>
<text x="1027" y="777">#8</text>
<text x="776" y="813">Segments</text>
</g>
<line x1="526" y1="789" x2="1038" y2="789" stroke="#111" stroke-width="1.5"/>
</svg>
</body></html>
